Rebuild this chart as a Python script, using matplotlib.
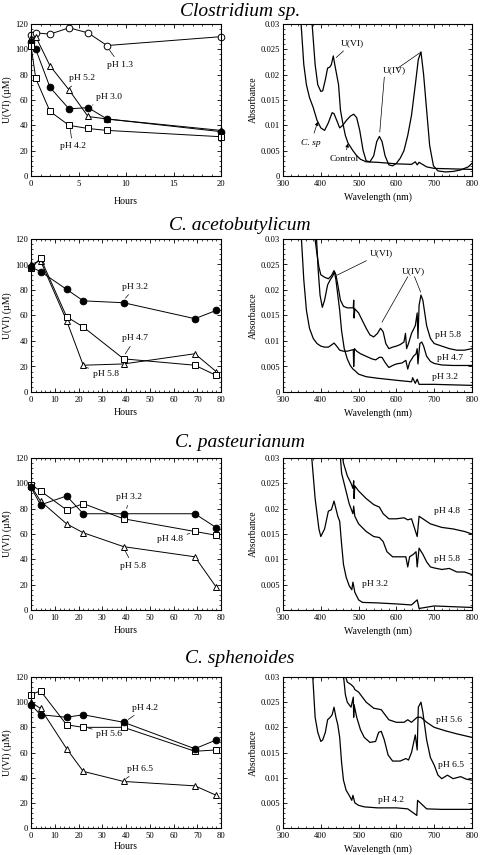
import matplotlib
matplotlib.use("Agg")
import matplotlib.pyplot as plt
from matplotlib.ticker import MultipleLocator

plt.rcParams['font.family'] = ['Liberation Serif', 'DejaVu Serif']

W, H = 480, 855

# ---------------- data: U(VI) vs time ----------------
cs_hours = [0, 0.5, 2, 4, 6, 8, 20]
cs_ph13 = [111, 113, 112, 117, 113, 103, 110]
cs_ph30 = [106, 100, 70, 53, 54, 45, 35]
cs_ph52 = [109, 110, 87, 68, 47, 45, 36]
cs_ph42 = [103, 77, 51, 40, 37.5, 36, 31]

ca_hours = [0, 4, 15, 22, 39, 69, 78]
ca_ph32 = [98, 94.5, 80.5, 71.5, 70, 57.5, 64]
ca_ph47 = [97, 105, 59, 51, 26, 21, 13]
ca_ph58 = [100, 103, 56, 21, 22, 30, 16]

cp_hours = [0, 4, 15, 22, 39, 69, 78]
cp_ph32 = [97, 83, 90, 76, 76, 76, 65]
cp_ph48 = [99, 94, 79, 84, 72, 62, 59]
cp_ph58 = [98, 86, 68, 61, 50, 42, 18]

csph_hours = [0, 4, 15, 22, 39, 69, 78]
csph_ph42 = [98, 90, 88, 90, 84, 63, 70]
csph_ph56 = [106, 109, 82, 80, 80, 61, 62]
csph_ph65 = [100, 95, 63, 45, 37, 33.5, 26]

# ---------------- data: spectra ----------------
cs_wl_ctrl = [376, 385, 392, 400, 405, 412, 418, 424, 428, 433, 437, 442, 447, 452, 458,
              465, 472, 478, 485, 495, 505, 520, 550, 600, 640, 650, 655, 660, 680, 700, 750, 800]
cs_abs_ctrl = [0.031, 0.022, 0.018, 0.0167, 0.0168, 0.019, 0.0213, 0.0215, 0.022, 0.0237, 0.022,
               0.020, 0.018, 0.013, 0.0105, 0.008, 0.0065, 0.0058, 0.005, 0.004, 0.0033, 0.0028,
               0.0027, 0.0024, 0.0023, 0.0028, 0.0022, 0.0027, 0.0018, 0.0015, 0.0014, 0.0013]
cs_wl_csp = [347, 355, 362, 370, 380, 390, 400, 410, 420, 430, 435, 442, 450, 458, 468, 478,
             487, 495, 503, 512, 520, 530, 540, 548, 555, 562, 570, 580, 590, 600, 610, 620,
             630, 640, 650, 658, 665, 672, 680, 688, 698, 710, 730, 750, 770, 790, 800]
cs_abs_csp = [0.031, 0.022, 0.018, 0.0155, 0.0135, 0.011, 0.0095, 0.009, 0.0105, 0.0125, 0.0123,
              0.011, 0.0095, 0.010, 0.011, 0.0118, 0.0122, 0.0115, 0.009, 0.005, 0.003, 0.0028,
              0.004, 0.0068, 0.0078, 0.0068, 0.004, 0.0022, 0.002, 0.0025, 0.0035, 0.005, 0.008,
              0.012, 0.018, 0.023, 0.0245, 0.020, 0.013, 0.006, 0.002, 0.001, 0.0008, 0.0009,
              0.0012, 0.0018, 0.0025]

ca_wl_32 = [388, 393, 398, 404, 410, 418, 425, 432, 436, 440, 445, 450, 455, 462, 470, 478,
            485, 490, 500, 520, 550, 600, 640, 643, 650, 655, 660, 700, 750, 800]
ca_abs_32 = [0.031, 0.024, 0.019, 0.0166, 0.018, 0.021, 0.022, 0.0228, 0.0236, 0.022, 0.019,
             0.016, 0.012, 0.0085, 0.0065, 0.0052, 0.0045, 0.0042, 0.0035, 0.003, 0.0027, 0.0023,
             0.002, 0.0028, 0.0017, 0.0025, 0.0015, 0.0015, 0.0014, 0.0013]
ca_wl_58 = [383, 390, 395, 400, 410, 420, 428, 435, 440, 445, 452, 460, 470, 480, 486, 487,
            488, 490, 500, 510, 520, 530, 540, 550, 558, 565, 572, 580, 590, 600, 610, 620,
            624, 627, 632, 640, 650, 655, 657, 660, 665, 670, 680, 690, 700, 720, 740, 760,
            780, 800]
ca_abs_58 = [0.031, 0.027, 0.0245, 0.023, 0.0225, 0.0222, 0.0228, 0.0238, 0.023, 0.021, 0.018,
             0.0168, 0.0165, 0.0165, 0.0165, 0.018, 0.0145, 0.0163, 0.0155, 0.014, 0.0125, 0.0112,
             0.0108, 0.0115, 0.0125, 0.0118, 0.0095, 0.0085, 0.0088, 0.009, 0.0093, 0.0098,
             0.0115, 0.0085, 0.0095, 0.0115, 0.013, 0.0155, 0.0105, 0.017, 0.019, 0.018, 0.013,
             0.0105, 0.0095, 0.009, 0.0085, 0.0082, 0.0082, 0.0085]
ca_wl_47 = [348, 355, 362, 370, 380, 390, 400, 410, 420, 428, 435, 442, 450, 460, 470, 480,
            486, 487, 489, 495, 505, 520, 535, 545, 555, 562, 570, 580, 590, 600, 615, 625,
            630, 635, 645, 652, 655, 657, 662, 667, 672, 680, 690, 700, 720, 750, 800]
ca_abs_47 = [0.031, 0.022, 0.016, 0.0125, 0.0105, 0.0095, 0.009, 0.0088, 0.0088, 0.0092,
             0.0096, 0.009, 0.0082, 0.008, 0.008, 0.0082, 0.0083, 0.005, 0.0085, 0.008, 0.0075,
             0.007, 0.0065, 0.0063, 0.0068, 0.0068, 0.0058, 0.0048, 0.0052, 0.0055, 0.0057,
             0.0062, 0.0045, 0.0058, 0.007, 0.0075, 0.0085, 0.0055, 0.0095, 0.0098, 0.009,
             0.007, 0.006, 0.0056, 0.0053, 0.0052, 0.0052]

cp_wl_32 = [375, 385, 395, 400, 410, 420, 428, 435, 440, 445, 450, 455, 460, 467, 475, 482,
            485, 490, 500, 510, 550, 600, 640, 655, 660, 700, 800]
cp_abs_32 = [0.031, 0.022, 0.016, 0.0145, 0.016, 0.0195, 0.0198, 0.0215, 0.020, 0.0185,
             0.0175, 0.013, 0.009, 0.0065, 0.0048, 0.004, 0.0055, 0.0035, 0.002, 0.0015, 0.0014,
             0.0012, 0.001, 0.002, 0.0003, 0.0008, 0.0005]
cp_wl_58 = [451, 455, 465, 475, 485, 487, 490, 500, 520, 540, 555, 565, 575, 590, 610, 625,
            630, 635, 645, 652, 655, 660, 670, 680, 690, 700, 720, 740, 760, 780, 800]
cp_abs_58 = [0.031, 0.027, 0.024, 0.021, 0.019, 0.0205, 0.0185, 0.017, 0.0155, 0.0145, 0.0143,
             0.0135, 0.0115, 0.0105, 0.0105, 0.0105, 0.0085, 0.0105, 0.011, 0.0115, 0.0085,
             0.0122, 0.011, 0.0095, 0.0085, 0.0083, 0.008, 0.0082, 0.0075, 0.0075, 0.007]
cp_wl_48 = [456, 460, 470, 480, 485, 487, 488, 490, 500, 520, 540, 555, 565, 580, 600, 620,
            630, 640, 655, 660, 670, 690, 720, 750, 780, 800]
cp_abs_48 = [0.031, 0.029, 0.0265, 0.025, 0.024, 0.0255, 0.022, 0.0245, 0.0235, 0.022, 0.0208,
             0.0203, 0.019, 0.018, 0.018, 0.0182, 0.0178, 0.018, 0.0145, 0.0185, 0.018, 0.017,
             0.0163, 0.016, 0.0155, 0.015]

sp_wl_42 = [378, 385, 392, 400, 405, 412, 418, 425, 430, 435, 440, 445, 450, 455, 460, 467,
            475, 482, 485, 490, 500, 515, 550, 600, 630, 654, 656, 680, 720, 800]
sp_abs_42 = [0.031, 0.022, 0.019, 0.0172, 0.0175, 0.019, 0.0215, 0.022, 0.0225, 0.024, 0.022,
             0.0205, 0.018, 0.013, 0.0095, 0.0075, 0.0065, 0.0055, 0.0065, 0.005, 0.0045,
             0.0042, 0.004, 0.004, 0.0038, 0.0025, 0.0055, 0.0038, 0.0037, 0.0037]
sp_wl_65 = [459, 465, 470, 480, 486, 487, 488, 495, 505, 515, 530, 545, 553, 560, 568, 578,
            590, 610, 625, 632, 640, 650, 655, 658, 665, 670, 680, 690, 700, 710, 720, 735,
            750, 770, 785, 800]
sp_abs_65 = [0.031, 0.0265, 0.025, 0.024, 0.026, 0.022, 0.0245, 0.022, 0.0195, 0.018, 0.017,
             0.0172, 0.019, 0.0192, 0.0175, 0.0145, 0.0133, 0.0133, 0.0138, 0.0135, 0.015,
             0.0185, 0.0155, 0.024, 0.025, 0.023, 0.0175, 0.014, 0.0125, 0.0105, 0.0098,
             0.0105, 0.0098, 0.0102, 0.0097, 0.0095]
sp_wl_56 = [462, 470, 480, 487, 490, 500, 520, 540, 560, 570, 580, 600, 620, 630, 640, 655,
            665, 680, 700, 730, 760, 800]
sp_abs_56 = [0.031, 0.029, 0.0285, 0.028, 0.0275, 0.027, 0.025, 0.0238, 0.0235, 0.0225,
             0.0215, 0.021, 0.021, 0.0215, 0.021, 0.022, 0.022, 0.021, 0.020, 0.0193, 0.0187,
             0.018]

titles = ['Clostridium sp.', 'C. acetobutylicum', 'C. pasteurianum', 'C. sphenoides']


def rect(l, t, r, b):
    return [l / W, 1 - b / H, (r - l) / W, (b - t) / H]


def style(ax):
    ax.tick_params(which='both', direction='in', top=True, right=True, labelsize=6.2)
    ax.tick_params(axis='y', pad=2)
    ax.tick_params(axis='x', pad=3)
    ax.tick_params(which='major', length=3, width=0.6)
    ax.tick_params(which='minor', length=1.5, width=0.5)
    for s in ax.spines.values():
        s.set_linewidth(0.8)


def kinetics(ax, xmax):
    style(ax)
    ax.set_xlim(0, xmax)
    ax.set_ylim(0, 120)
    ax.yaxis.set_major_locator(MultipleLocator(20))
    ax.yaxis.set_minor_locator(MultipleLocator(4))
    if xmax == 20:
        ax.xaxis.set_major_locator(MultipleLocator(5))
        ax.xaxis.set_minor_locator(MultipleLocator(1))
    else:
        ax.xaxis.set_major_locator(MultipleLocator(10))
        ax.xaxis.set_minor_locator(MultipleLocator(2))
    ax.set_xlabel('Hours', fontsize=7, labelpad=3)
    ax.set_ylabel('U(VI) (µM)', fontsize=7, labelpad=2)


def spectrum(ax):
    style(ax)
    ax.set_xlim(300, 800)
    ax.set_ylim(0, 0.03)
    ax.xaxis.set_major_locator(MultipleLocator(100))
    ax.xaxis.set_minor_locator(MultipleLocator(20))
    ax.yaxis.set_major_locator(MultipleLocator(0.005))
    ax.yaxis.set_minor_locator(MultipleLocator(0.001))
    ax.yaxis.set_major_formatter(plt.FuncFormatter(lambda v, p: '0' if v == 0 else ('%g' % round(v, 4))))
    ax.set_xlabel('Wavelength (nm)', fontsize=7, labelpad=3)
    ax.set_ylabel('Absorbance', fontsize=7, labelpad=2)


def series(ax, x, y, marker, filled, ms=4.8):
    ax.plot(x, y, color='black', lw=0.7, marker=marker, ms=ms,
            mfc='black' if filled else 'white', mec='black', mew=0.7, clip_on=False)


def curve(ax, x, y):
    ax.plot(x, y, color='black', lw=0.9)


def label(ax, text, xy, xytext, ha='left', fs=6.8):
    ax.annotate(text, xy=xy, xytext=xytext, fontsize=fs, ha=ha, va='center',
                arrowprops=dict(arrowstyle='-', lw=0.5, color='black', shrinkA=1, shrinkB=2))


def arrow(ax, text, xy, xytext, fs=6.8, style='normal'):
    ax.annotate(text, xy=xy, xytext=xytext, fontsize=fs, ha='left', va='center', fontstyle=style,
                arrowprops=dict(arrowstyle='-|>', lw=0.5, color='black', mutation_scale=5,
                                shrinkA=2, shrinkB=0))


fig = plt.figure(figsize=(W / 100, H / 100), dpi=100)

rows = [(24, 176), (239, 392), (458, 610), (677, 828)]
title_y = [12, 225, 442, 658]
for t, ty in zip(titles, title_y):
    fig.text(0.5, 1 - ty / H, t, ha='center', va='center', fontsize=14, fontstyle='italic')

axes_l = [fig.add_axes(rect(31, t, 221, b)) for t, b in rows]
axes_r = [fig.add_axes(rect(283, t, 472, b)) for t, b in rows]

# --- Clostridium sp. ---
ax = axes_l[0]
kinetics(ax, 20)
series(ax, cs_hours, cs_ph13, 'o', False)
series(ax, cs_hours, cs_ph52, '^', False, 4.2)
series(ax, cs_hours, cs_ph30, 'o', True)
series(ax, cs_hours, cs_ph42, 's', False)
label(ax, 'pH 1.3', (8.1, 101), (8.0, 88))
label(ax, 'pH 5.2', (4.1, 70), (4.0, 77))
label(ax, 'pH 3.0', (6.2, 55), (6.8, 62))
label(ax, 'pH 4.2', (4.1, 39), (3.0, 23.5))
ax.xaxis.labelpad = 6

ax = axes_r[0]
spectrum(ax)
curve(ax, cs_wl_ctrl, cs_abs_ctrl)
curve(ax, cs_wl_csp, cs_abs_csp)
ax.annotate('U(VI)', xy=(438, 0.0232), xytext=(452, 0.0262), fontsize=6.8, ha='left', va='center',
            arrowprops=dict(arrowstyle='-', lw=0.5, color='black', shrinkA=1, shrinkB=1))
ax.text(565, 0.0209, 'U(IV)', fontsize=6.8, ha='left', va='center')
ax.plot([602, 662], [0.0212, 0.0243], color='black', lw=0.5)
ax.plot([568, 556], [0.0195, 0.0087], color='black', lw=0.5)
arrow(ax, 'C. sp', (392, 0.0107), (348, 0.0066), style='italic')
arrow(ax, 'Control', (472, 0.0064), (423, 0.0033))

# --- C. acetobutylicum ---
ax = axes_l[1]
kinetics(ax, 80)
series(ax, ca_hours, ca_ph58, '^', False, 4.2)
series(ax, ca_hours, ca_ph47, 's', False)
series(ax, ca_hours, ca_ph32, 'o', True)
label(ax, 'pH 3.2', (39, 72), (38.5, 82.5))
label(ax, 'pH 4.7', (39, 28), (38.5, 42))
label(ax, 'pH 5.8', (22, 20), (26, 14.5))

ax = axes_r[1]
spectrum(ax)
curve(ax, ca_wl_32, ca_abs_32)
curve(ax, ca_wl_58, ca_abs_58)
curve(ax, ca_wl_47, ca_abs_47)
ax.annotate('U(VI)', xy=(440, 0.0228), xytext=(530, 0.0272), fontsize=6.8, ha='left', va='center',
            arrowprops=dict(arrowstyle='-', lw=0.5, color='black', shrinkA=1, shrinkB=1))
ax.text(615, 0.0236, 'U(IV)', fontsize=6.8, ha='left', va='center')
ax.plot([630, 562], [0.0226, 0.0137], color='black', lw=0.5)
ax.plot([648, 664], [0.0226, 0.0196], color='black', lw=0.5)
ax.text(701, 0.0111, 'pH 5.8', fontsize=6.8, va='center')
ax.text(707, 0.0066, 'pH 4.7', fontsize=6.8, va='center')
ax.text(693, 0.0030, 'pH 3.2', fontsize=6.8, va='center')

# --- C. pasteurianum ---
ax = axes_l[2]
kinetics(ax, 80)
series(ax, cp_hours, cp_ph58, '^', False, 4.2)
series(ax, cp_hours, cp_ph48, 's', False)
series(ax, cp_hours, cp_ph32, 'o', True)
label(ax, 'pH 3.2', (40, 78), (36, 89))
label(ax, 'pH 4.8', (68, 61), (53, 56))
label(ax, 'pH 5.8', (39, 49), (37.5, 35))

ax = axes_r[2]
spectrum(ax)
curve(ax, cp_wl_32, cp_abs_32)
curve(ax, cp_wl_58, cp_abs_58)
curve(ax, cp_wl_48, cp_abs_48)
ax.text(700, 0.0195, 'pH 4.8', fontsize=6.8, va='center')
ax.text(700, 0.0100, 'pH 5.8', fontsize=6.8, va='center')
ax.text(508, 0.0052, 'pH 3.2', fontsize=6.8, va='center')

# --- C. sphenoides ---
ax = axes_l[3]
kinetics(ax, 80)
series(ax, csph_hours, csph_ph65, '^', False, 4.2)
series(ax, csph_hours, csph_ph56, 's', False)
series(ax, csph_hours, csph_ph42, 'o', True)
label(ax, 'pH 4.2', (40, 85), (42.5, 95.5))
label(ax, 'pH 5.6', (23, 80), (27.5, 75))
label(ax, 'pH 6.5', (39, 38), (40.5, 47))
ax.xaxis.labelpad = 1.5

ax = axes_r[3]
spectrum(ax)
curve(ax, sp_wl_42, sp_abs_42)
curve(ax, sp_wl_65, sp_abs_65)
curve(ax, sp_wl_56, sp_abs_56)
ax.text(706, 0.0215, 'pH 5.6', fontsize=6.8, va='center')
ax.text(710, 0.0125, 'pH 6.5', fontsize=6.8, va='center')
ax.text(551, 0.0055, 'pH 4.2', fontsize=6.8, va='center')

fig.savefig('out.png', dpi=100)
